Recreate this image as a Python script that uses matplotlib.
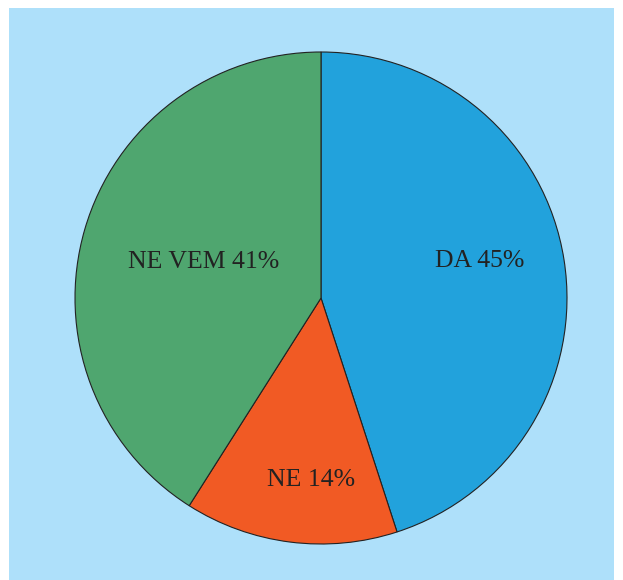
import numpy as np
import matplotlib.pyplot as plt
from matplotlib.patches import Rectangle

# Podatki
labels = ['DA', 'NE', 'NE VEM']
values = [45, 14, 41]
colors = ['#22a2dc', '#f15a24', '#4fa66f']
label_dist = [0.66, 0.74, 0.50]
label_shift = [4, 4, -1]  # zamik oznake od sredine izseka (stopinje)

fig = plt.figure(figsize=(6.23, 5.8), dpi=100)

# Svetlo modro ozadje
fig.patches.append(Rectangle((9 / 623, 0), 605 / 623, 572 / 580,
                             transform=fig.transFigure, facecolor='#aee0fa',
                             edgecolor='none', zorder=-10))

ax = fig.add_axes([75 / 623, 36 / 580, 492 / 623, 492 / 580])
ax.set_zorder(1)
ax.patch.set_visible(False)
wedges, _ = ax.pie(values, colors=colors, startangle=90, counterclock=False,
                   radius=1, wedgeprops=dict(edgecolor='#222222', linewidth=0.8))

# Oznake
for w, lab, v, d, s in zip(wedges, labels, values, label_dist, label_shift):
    ang = np.deg2rad((w.theta1 + w.theta2) / 2 + s)
    ax.text(d * np.cos(ang), d * np.sin(ang), f'{lab} {v}%',
            ha='center', va='center', fontsize=18.5,
            family='Liberation Serif', color='#222222')

ax.set_xlim(-1, 1)
ax.set_ylim(-1, 1)
ax.set_aspect('equal')
ax.axis('off')

fig.savefig('out.png', dpi=100)
